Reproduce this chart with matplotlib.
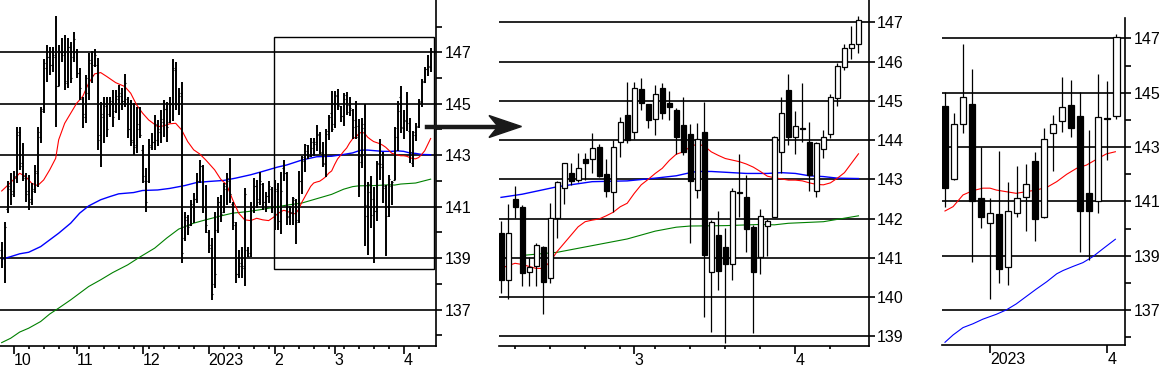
import numpy as np
import matplotlib
matplotlib.use('Agg')
import matplotlib.pyplot as plt
from matplotlib.patches import Rectangle, Polygon
from matplotlib.lines import Line2D

plt.rcParams['font.family'] = ['Liberation Sans', 'DejaVu Sans']

# daily prices, bar 0 = late Sep 2022 ... bar 143 = mid Apr 2023
day_open = [
    139.3, 139.0, 140.9, 141.7, 141.6, 142.2, 143.9, 142.7, 142.1, 141.6,
    141.3, 141.7, 142.3, 143.7, 144.8, 146.4, 146.8, 146.5, 146.8, 145.7,
    147.0, 147.0, 145.8, 147.2, 146.8, 147.0, 146.2, 145.2, 144.5, 145.4,
    146.6, 146.5, 146.5, 143.8, 144.5, 144.9, 144.6, 145.0, 144.7, 145.2,
    145.3, 145.1, 145.2, 144.0, 143.5, 143.4, 144.0, 143.2, 142.0, 142.0,
    143.3, 143.5, 143.6, 143.9, 144.3, 144.8, 144.3, 145.0, 146.3, 145.0,
    145.4, 139.8, 140.5, 140.3, 141.0, 141.3, 142.0, 142.6, 141.0, 140.0,
    139.4, 138.0, 140.1, 141.2, 140.8, 141.7, 142.0, 141.1, 140.3, 138.4,
    138.8, 138.6, 139.3, 139.2, 141.0, 141.8, 141.3, 141.9, 141.2, 141.4,
    141.7, 141.0,
    # bar 92 onwards (zoomed panel)
    141.62, 140.44, 142.50, 142.29, 140.63, 140.80, 141.27, 140.48, 142.01, 142.77,
    143.15, 142.98, 143.52, 143.51, 143.82, 143.14, 142.67, 143.96, 144.64, 144.21,
    145.29, 144.92, 144.53, 145.32, 144.94, 144.77, 144.38, 144.15, 142.73, 144.21,
    140.65, 141.58, 141.28, 140.83, 142.67, 142.56, 141.79, 141.03, 141.82, 142.05,
    143.70, 145.28, 144.07, 144.32, 143.94, 142.71, 143.77, 144.15, 145.06, 145.85,
    146.35, 146.44,
]
day_high = [
    139.61, 140.42, 141.98, 142.30, 142.37, 144.11, 144.11, 143.47, 142.30, 142.24,
    141.91, 142.62, 144.11, 144.89, 146.73, 147.28, 147.22, 147.22, 148.41, 147.28,
    147.54, 147.67, 147.54, 147.41, 147.80, 147.12, 146.38, 145.28, 146.12, 146.96,
    147.03, 147.12, 146.77, 145.08, 145.28, 145.28, 145.28, 145.54, 145.54, 145.73,
    145.60, 146.16, 145.28, 145.15, 145.02, 144.89, 144.89, 143.40, 142.50, 143.62,
    143.85, 144.57, 144.37, 144.76, 145.15, 145.08, 145.28, 146.73, 146.64, 145.60,
    145.86, 140.81, 140.68, 141.27, 141.52, 142.30, 142.82, 142.62, 141.85, 140.10,
    139.78, 140.81, 141.39, 141.46, 141.94, 142.30, 142.88, 141.20, 140.42, 139.32,
    139.45, 141.72, 139.45, 141.20, 142.11, 142.04, 142.33, 141.94, 141.59, 141.98,
    141.78, 142.04,
    141.94, 142.36, 142.83, 142.35, 141.03, 141.37, 141.30, 142.39, 142.96, 143.42,
    143.41, 143.66, 143.66, 144.17, 143.89, 143.53, 144.00, 144.58, 145.49, 145.49,
    145.57, 144.92, 145.40, 145.45, 145.26, 144.81, 145.11, 144.40, 144.43, 144.98,
    141.96, 142.20, 141.77, 142.77, 143.64, 143.11, 141.84, 142.24, 142.00, 144.10,
    145.09, 145.68, 144.74, 145.45, 144.45, 143.96, 144.26, 145.17, 145.96, 146.44,
    146.91, 147.17,
]
day_low = [
    138.61, 138.05, 140.75, 141.07, 141.39, 141.91, 142.43, 141.98, 141.20, 140.88,
    141.07, 141.52, 141.78, 143.47, 144.63, 145.86, 146.12, 146.25, 144.11, 145.67,
    146.64, 145.54, 145.60, 145.80, 146.64, 145.99, 145.15, 144.05, 144.24, 145.15,
    145.80, 146.44, 143.21, 142.56, 143.47, 143.72, 144.50, 144.11, 144.63, 144.37,
    144.76, 144.89, 143.66, 143.34, 143.01, 143.08, 143.66, 141.91, 140.81, 141.91,
    143.21, 143.21, 143.34, 143.47, 143.72, 143.53, 144.24, 144.31, 144.76, 144.57,
    138.81, 139.65, 139.91, 140.24, 140.36, 141.14, 141.91, 140.75, 139.97, 139.19,
    137.38, 137.83, 139.97, 140.42, 140.75, 141.07, 141.14, 140.10, 138.03, 138.22,
    138.22, 137.90, 139.06, 139.06, 140.75, 140.94, 141.07, 140.88, 140.81, 141.14,
    140.75, 140.10,
    140.10, 139.95, 142.01, 140.29, 140.29, 140.29, 139.56, 140.37, 141.51, 142.36,
    142.86, 142.94, 142.98, 143.15, 143.05, 142.56, 142.16, 143.58, 143.92, 144.04,
    144.77, 144.30, 144.13, 144.55, 144.51, 143.64, 143.62, 141.37, 142.52, 139.48,
    139.12, 140.18, 138.82, 140.44, 142.05, 141.16, 139.08, 140.59, 141.05, 142.05,
    143.15, 143.87, 143.64, 143.96, 142.69, 142.56, 143.54, 144.06, 144.87, 145.79,
    146.07, 146.23,
]
day_close = [
    139.0, 140.2, 141.8, 141.5, 142.1, 143.8, 142.6, 142.2, 141.5, 141.2,
    141.6, 142.4, 143.9, 144.7, 146.6, 146.8, 146.5, 146.9, 145.7, 147.0,
    146.9, 145.9, 147.2, 146.0, 147.5, 146.2, 145.6, 144.6, 146.0, 146.7,
    146.1, 146.9, 143.6, 144.6, 145.0, 144.0, 145.1, 144.5, 145.3, 145.4,
    145.1, 145.8, 144.0, 143.6, 143.3, 144.2, 143.8, 142.2, 141.2, 143.4,
    143.5, 144.2, 144.0, 144.4, 144.8, 144.1, 145.0, 146.4, 145.0, 145.3,
    139.2, 140.6, 140.2, 141.1, 141.3, 142.0, 142.6, 141.0, 140.3, 139.5,
    137.6, 138.4, 141.2, 140.7, 141.8, 142.1, 141.5, 140.4, 138.4, 138.7,
    138.7, 141.5, 139.1, 141.0, 141.8, 141.2, 142.0, 141.2, 141.4, 141.8,
    141.0, 141.7,
    140.44, 141.62, 142.29, 140.60, 140.77, 141.33, 140.39, 142.01, 142.92, 143.41,
    142.97, 143.28, 143.42, 143.79, 143.09, 142.69, 143.83, 144.47, 144.00, 145.32,
    144.94, 144.51, 145.17, 144.68, 144.85, 144.09, 143.70, 142.97, 144.04, 141.06,
    141.90, 140.67, 140.83, 142.69, 142.64, 141.73, 140.65, 142.07, 141.95, 144.07,
    144.70, 144.09, 144.37, 144.27, 143.11, 143.92, 144.09, 145.11, 145.90, 146.34,
    146.46, 147.06,
]

# daily moving averages (bar index, value)
ma_short_x = [0, 3, 6, 8, 10, 12, 14, 16, 18, 19, 21, 23, 25, 27, 29, 31, 33, 35, 38, 41,
              43, 45, 47, 49, 52, 54, 56, 58, 60, 62, 64, 66, 68, 71, 73, 75, 77, 79, 81, 83,
              85, 87, 89, 91,
              92, 93, 94, 95, 96, 97, 98, 99, 100, 101, 102, 103, 104, 105, 106, 107, 108,
              109, 110, 111, 112, 113, 114, 115, 116, 117, 118, 119, 120, 121, 122, 123,
              124, 125, 126, 127, 128, 129, 130, 131, 132, 133, 134, 135, 136, 137, 138,
              139, 140, 141, 142, 143]
ma_short_y = [141.61, 141.94, 142.30, 142.17, 141.91, 141.82, 142.04, 142.43, 142.88, 143.60,
              144.24, 144.63, 145.02, 145.28, 145.80, 146.16, 146.21, 146.06, 145.82, 145.67,
              145.41, 144.95, 144.63, 144.37, 144.11, 144.14, 144.22, 144.24, 143.98, 143.53,
              143.21, 143.05, 142.82, 142.43, 142.07, 141.85, 141.27, 140.75, 140.49, 140.46,
              140.55, 140.49, 140.46, 140.62,
              140.73, 140.80, 140.86, 140.83, 140.78, 140.73, 140.73, 140.90, 141.16, 141.37,
              141.58, 141.79, 141.92, 141.96, 141.99, 142.07, 142.16, 142.30, 142.39, 142.64,
              142.86, 143.00, 143.15, 143.28, 143.48, 143.64, 143.70, 143.83, 143.90, 143.85,
              143.70, 143.61, 143.53, 143.49, 143.45, 143.39, 143.31, 143.20, 143.08, 143.04,
              143.01, 142.98, 142.98, 142.96, 142.91, 142.87, 142.86, 142.91, 143.03, 143.17,
              143.41, 143.65]
ma_mid_x = [0, 3, 6, 9, 13, 16, 19, 23, 26, 29, 33, 36, 39, 44, 47, 52, 56, 61, 65, 69,
            74, 78, 83, 87, 92, 95, 100, 105, 110, 114, 117, 119, 120, 122, 124, 127, 130,
            132, 134, 136, 138, 140, 143]
ma_mid_y = [138.96, 139.06, 139.17, 139.23, 139.45, 139.71, 139.97, 140.36, 140.75, 141.03,
            141.27, 141.39, 141.50, 141.55, 141.63, 141.65, 141.71, 141.82, 141.94, 141.98,
            142.02, 142.11, 142.24, 142.37, 142.54, 142.62, 142.81, 142.94, 142.96, 143.03,
            143.09, 143.17, 143.20, 143.20, 143.18, 143.15, 143.15, 143.17, 143.15, 143.09,
            143.07, 143.03, 143.02]
ma_long_x = [0, 3, 6, 9, 13, 16, 19, 23, 26, 29, 33, 37, 42, 46, 51, 55, 59, 64, 68, 73,
             77, 82, 86, 91, 95, 100, 105, 110, 114, 117, 119, 124, 129, 131, 133, 138, 140,
             143]
ma_long_y = [135.72, 135.89, 136.13, 136.28, 136.54, 136.83, 137.06, 137.38, 137.64, 137.90,
             138.16, 138.44, 138.74, 139.04, 139.39, 139.78, 140.13, 140.36, 140.49, 140.64,
             140.75, 140.81, 140.88, 140.98, 141.06, 141.14, 141.31, 141.48, 141.68, 141.78,
             141.81, 141.82, 141.85, 141.84, 141.88, 141.92, 141.98, 142.07]

# weekly candles, week 0 = end Nov 2022, week 5 = first week of 2023
wk_open = [144.51, 141.82, 143.84, 144.57, 141.12, 140.20, 140.54, 138.58, 140.57, 141.15,
           142.49, 140.44, 143.51, 143.97, 144.55, 144.14, 141.33, 141.03, 144.08, 144.16]
wk_high = [145.01, 144.24, 146.78, 145.86, 143.02, 141.14, 142.86, 141.71, 142.31, 142.38,
           142.81, 143.69, 144.18, 145.59, 145.47, 145.01, 143.63, 145.69, 145.44, 147.15]
wk_low = [140.79, 141.79, 143.51, 138.79, 140.01, 137.40, 137.99, 137.91, 140.44, 139.93,
          139.56, 140.38, 142.13, 143.57, 143.36, 139.13, 138.85, 140.57, 142.53, 144.03]
wk_close = [141.49, 143.84, 144.83, 141.02, 140.42, 140.57, 138.51, 140.66, 141.14, 141.63,
            140.36, 143.29, 143.84, 144.49, 143.69, 140.66, 140.66, 144.10, 144.05, 147.04]
wk_ma_short_x = [0, 0.9, 2, 3.1, 4.2, 5, 5.7, 6.8, 7.9, 9, 10.1, 11.3, 12.4, 13.5, 14.6,
                 15.7, 16.8, 17.9, 18.9]
wk_ma_short_y = [140.65, 140.81, 141.24, 141.40, 141.49, 141.49, 141.42, 141.36, 141.30,
                 141.36, 141.42, 141.52, 141.73, 142.00, 142.22, 142.34, 142.55, 142.75, 142.83]
wk_ma_long_x = [0, 0.9, 2, 3.1, 4.2, 5.7, 6.8, 7.9, 9, 10.1, 11.3, 12.4, 13.1, 14.2, 15.3,
                16.4, 17.6, 18.9]
wk_ma_long_y = [135.82, 136.09, 136.36, 136.50, 136.67, 136.85, 137.01, 137.23, 137.50,
                137.77, 138.05, 138.34, 138.46, 138.61, 138.75, 138.97, 139.28, 139.61]

# month ticks (bar index) and labels
month_pos = [4, 25, 47, 69, 91, 111, 134]
month_lbl = ['10', '11', '12', '2023', '2', '3', '4']
week_pos = list(range(4, 144, 5))
wk_month_pos = [5, 18]
wk_month_lbl = ['2023', '4']

W, H = 1168, 382
fig = plt.figure(figsize=(W / 100, H / 100), dpi=100)


def px_axes(left, top, right, bottom):
    return fig.add_axes([left / W, 1 - bottom / H, (right - left) / W, (bottom - top) / H])


def style(ax, xlim, ylim, ymaj, ymin, xmaj, xlbl, xmin):
    ax.set_xlim(*xlim)
    ax.set_ylim(*ylim)
    ax.spines['left'].set_visible(False)
    ax.spines['top'].set_visible(False)
    ax.spines['right'].set_linewidth(1.2)
    ax.spines['bottom'].set_linewidth(1.2)
    ax.yaxis.tick_right()
    ax.set_yticks(ymaj)
    ax.set_yticklabels([str(v) for v in ymaj])
    ax.set_yticks(ymin, minor=True)
    ax.set_xticks(xmaj)
    ax.set_xticklabels(xlbl, ha='left')
    ax.set_xticks(xmin, minor=True)
    ax.tick_params(axis='y', which='both', length=4, width=1.2, labelsize=11.5, pad=2)
    ax.tick_params(axis='x', which='major', length=6, width=1.2, labelsize=11.5, pad=-1)
    ax.tick_params(axis='x', which='minor', length=2.5, width=1.2)
    ax.grid(axis='y', which='major', color='black', lw=1.2)
    ax.set_axisbelow(True)


def draw_mas(ax, pairs):
    for xs, ys, col, lw in pairs:
        ax.plot(xs, ys, color=col, lw=lw, zorder=2)


def draw_candles(ax, x, o, h, l, c, width):
    o, h, l, c = map(np.asarray, (o, h, l, c))
    ax.vlines(x, l, h, color='black', lw=0.9, zorder=3)
    up = c >= o
    bottom = np.minimum(o, c)
    height = np.maximum(np.abs(c - o), 0.02)
    ax.bar(x, height, width, bottom=bottom, color=np.where(up, 'white', 'black'),
           edgecolor='black', lw=0.9, zorder=4)


# ---- overview: daily OHLC bars
ax1 = px_axes(0, 0, 436, 345.7)
x1 = np.arange(len(day_open))
draw_mas(ax1, [(ma_long_x, ma_long_y, '#008000', 0.8),
               (ma_mid_x, ma_mid_y, '#0000ff', 1.0),
               (ma_short_x, ma_short_y, '#ff0000', 0.8)])
ax1.vlines(x1, day_low, day_high, color='black', lw=1.4, zorder=3)
ax1.hlines(day_open, x1 - 0.6, x1, color='black', lw=0.8, zorder=3)
ax1.hlines(day_close, x1, x1 + 0.6, color='black', lw=0.8, zorder=3)
style(ax1, (-0.56, 144.78), (135.60, 149.03), [137, 139, 141, 143, 145, 147],
      [136, 138, 140, 142, 144, 146, 148], month_pos, month_lbl, week_pos)
ax1.add_patch(Rectangle((90.9, 138.58), 144.1 - 90.9, 147.59 - 138.58, fill=False,
                        ec='black', lw=1.0, zorder=5))

# ---- zoom: last 52 daily candles
ax2 = px_axes(499, 0, 868.5, 345.7)
x2 = x1[92:]
sel = lambda xs, ys: ([a for a in xs if a >= 92], [b for a, b in zip(xs, ys) if a >= 92])
draw_mas(ax2, [(*sel(ma_long_x, ma_long_y), '#008000', 0.8),
               (*sel(ma_mid_x, ma_mid_y), '#0000ff', 1.0),
               (*sel(ma_short_x, ma_short_y), '#ff0000', 0.8)])
draw_candles(ax2, x2, day_open[92:], day_high[92:], day_low[92:], day_close[92:], 0.72)
style(ax2, (91.71, 144.43), (138.76, 147.57), list(range(139, 148)), [],
      month_pos[-2:], month_lbl[-2:], list(range(94, 144, 5)))

# ---- weekly candles
ax3 = px_axes(942, 18, 1125, 345)
x3 = np.arange(len(wk_open))
draw_mas(ax3, [(wk_ma_long_x, wk_ma_long_y, '#0000ff', 0.8),
               (wk_ma_short_x, wk_ma_short_y, '#ff0000', 0.8)])
draw_candles(ax3, x3, wk_open, wk_high, wk_low, wk_close, 0.72)
style(ax3, (-0.33, 19.97), (135.72, 147.75), [137, 139, 141, 143, 145, 147],
      [136, 138, 140, 142, 144, 146], wk_month_pos, wk_month_lbl, [])

# ---- arrow from the box to the zoomed panel
fy = lambda py: 1 - py / H
fig.add_artist(Line2D([427 / W, 497 / W], [fy(126.5), fy(126.5)], color='#1a1a1a',
                      lw=3.2, transform=fig.transFigure, zorder=10))
fig.add_artist(Polygon([(521.5 / W, fy(126.5)), (489 / W, fy(115.5)), (498 / W, fy(126.5)),
                        (489 / W, fy(137.5))], closed=True, color='#1a1a1a',
                       transform=fig.transFigure, zorder=10))

fig.savefig('out.png', dpi=100)
